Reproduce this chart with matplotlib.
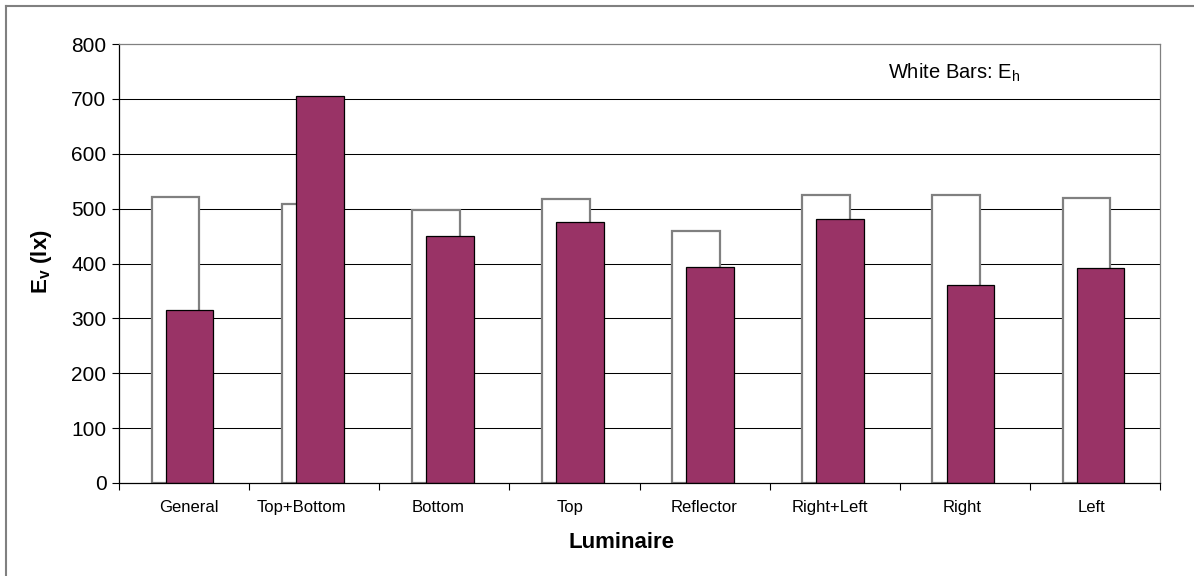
import numpy as np
import matplotlib.pyplot as plt
from matplotlib.lines import Line2D

plt.rcParams['font.family'] = ['Liberation Sans', 'DejaVu Sans']
plt.rcParams['mathtext.fontset'] = 'custom'
plt.rcParams['mathtext.rm'] = 'Liberation Sans'
plt.rcParams['mathtext.it'] = 'Liberation Sans'
plt.rcParams['mathtext.bf'] = 'Liberation Sans:bold'

# datos
luminaires = ['General', 'Top+Bottom', 'Bottom', 'Top', 'Reflector',
              'Right+Left', 'Right', 'Left']
e_h = [522, 509, 498, 517, 460, 525, 524, 520]   # barras blancas
e_v = [316, 706, 450, 475, 394, 482, 360, 391]   # barras moradas

# desplazamiento de etiquetas (como en el original)
label_shift = [0.04, -0.10, -0.046, -0.03, 0.0, -0.04, -0.02, -0.023]

fig = plt.figure(figsize=(11.94, 5.76), dpi=100)
ax = fig.add_axes([119/1194, 1 - 483/576, (1160-119)/1194, (483-44)/576])

x = np.arange(len(luminaires))
w = 0.366
ax.bar(x + 0.434, e_h, width=w, color='white', edgecolor='#808080',
       linewidth=1.6, zorder=2)
ax.bar(x + 0.543, e_v, width=w, color='#993366', edgecolor='black',
       linewidth=0.9, zorder=3)

ax.set_xlim(0, len(luminaires))
ax.set_ylim(0, 800)
ax.set_yticks(np.arange(0, 801, 100))
for v in range(100, 800, 100):
    ax.axhline(v, color='black', lw=0.75, zorder=1)

ax.set_xticks(np.arange(0, len(luminaires) + 1))
ax.set_xticklabels([])
ax.tick_params(axis='x', direction='out', length=5, width=0.8, color='black')
ax.tick_params(axis='y', direction='out', length=5, width=0.8, color='black',
               labelsize=15, pad=4)
for i, lab in enumerate(luminaires):
    ax.text(i + 0.5 + label_shift[i], -45, lab, ha='center', va='center',
            fontsize=12, transform=ax.transData)

ax.spines['left'].set_color('black')
ax.spines['bottom'].set_color('black')
ax.spines['top'].set_color('#808080')
ax.spines['right'].set_color('#808080')
for s in ax.spines.values():
    s.set_linewidth(0.9)
ax.spines['bottom'].set_zorder(4)

fig.text(621/1194, 1 - 542/576, 'Luminaire', ha='center', va='center',
         fontsize=16, fontweight='bold')
fig.text(41/1194, 1 - 262/576, r'$\mathbf{E_v}$ (lx)', ha='center', va='center',
         fontsize=16, fontweight='bold', rotation=90)
fig.text(888/1194, 1 - 73/576, r'White Bars: $\mathrm{E_h}$', ha='left',
         va='center', fontsize=14.5)

# marco exterior (solo izquierda y arriba visibles)
fig.add_artist(Line2D([6/1194, 6/1194], [0, 1 - 6/576], color='#808080',
                      lw=1.5, transform=fig.transFigure))
fig.add_artist(Line2D([6/1194, 1], [1 - 6/576, 1 - 6/576], color='#808080',
                      lw=1.5, transform=fig.transFigure))

fig.savefig('out.png', dpi=100)
